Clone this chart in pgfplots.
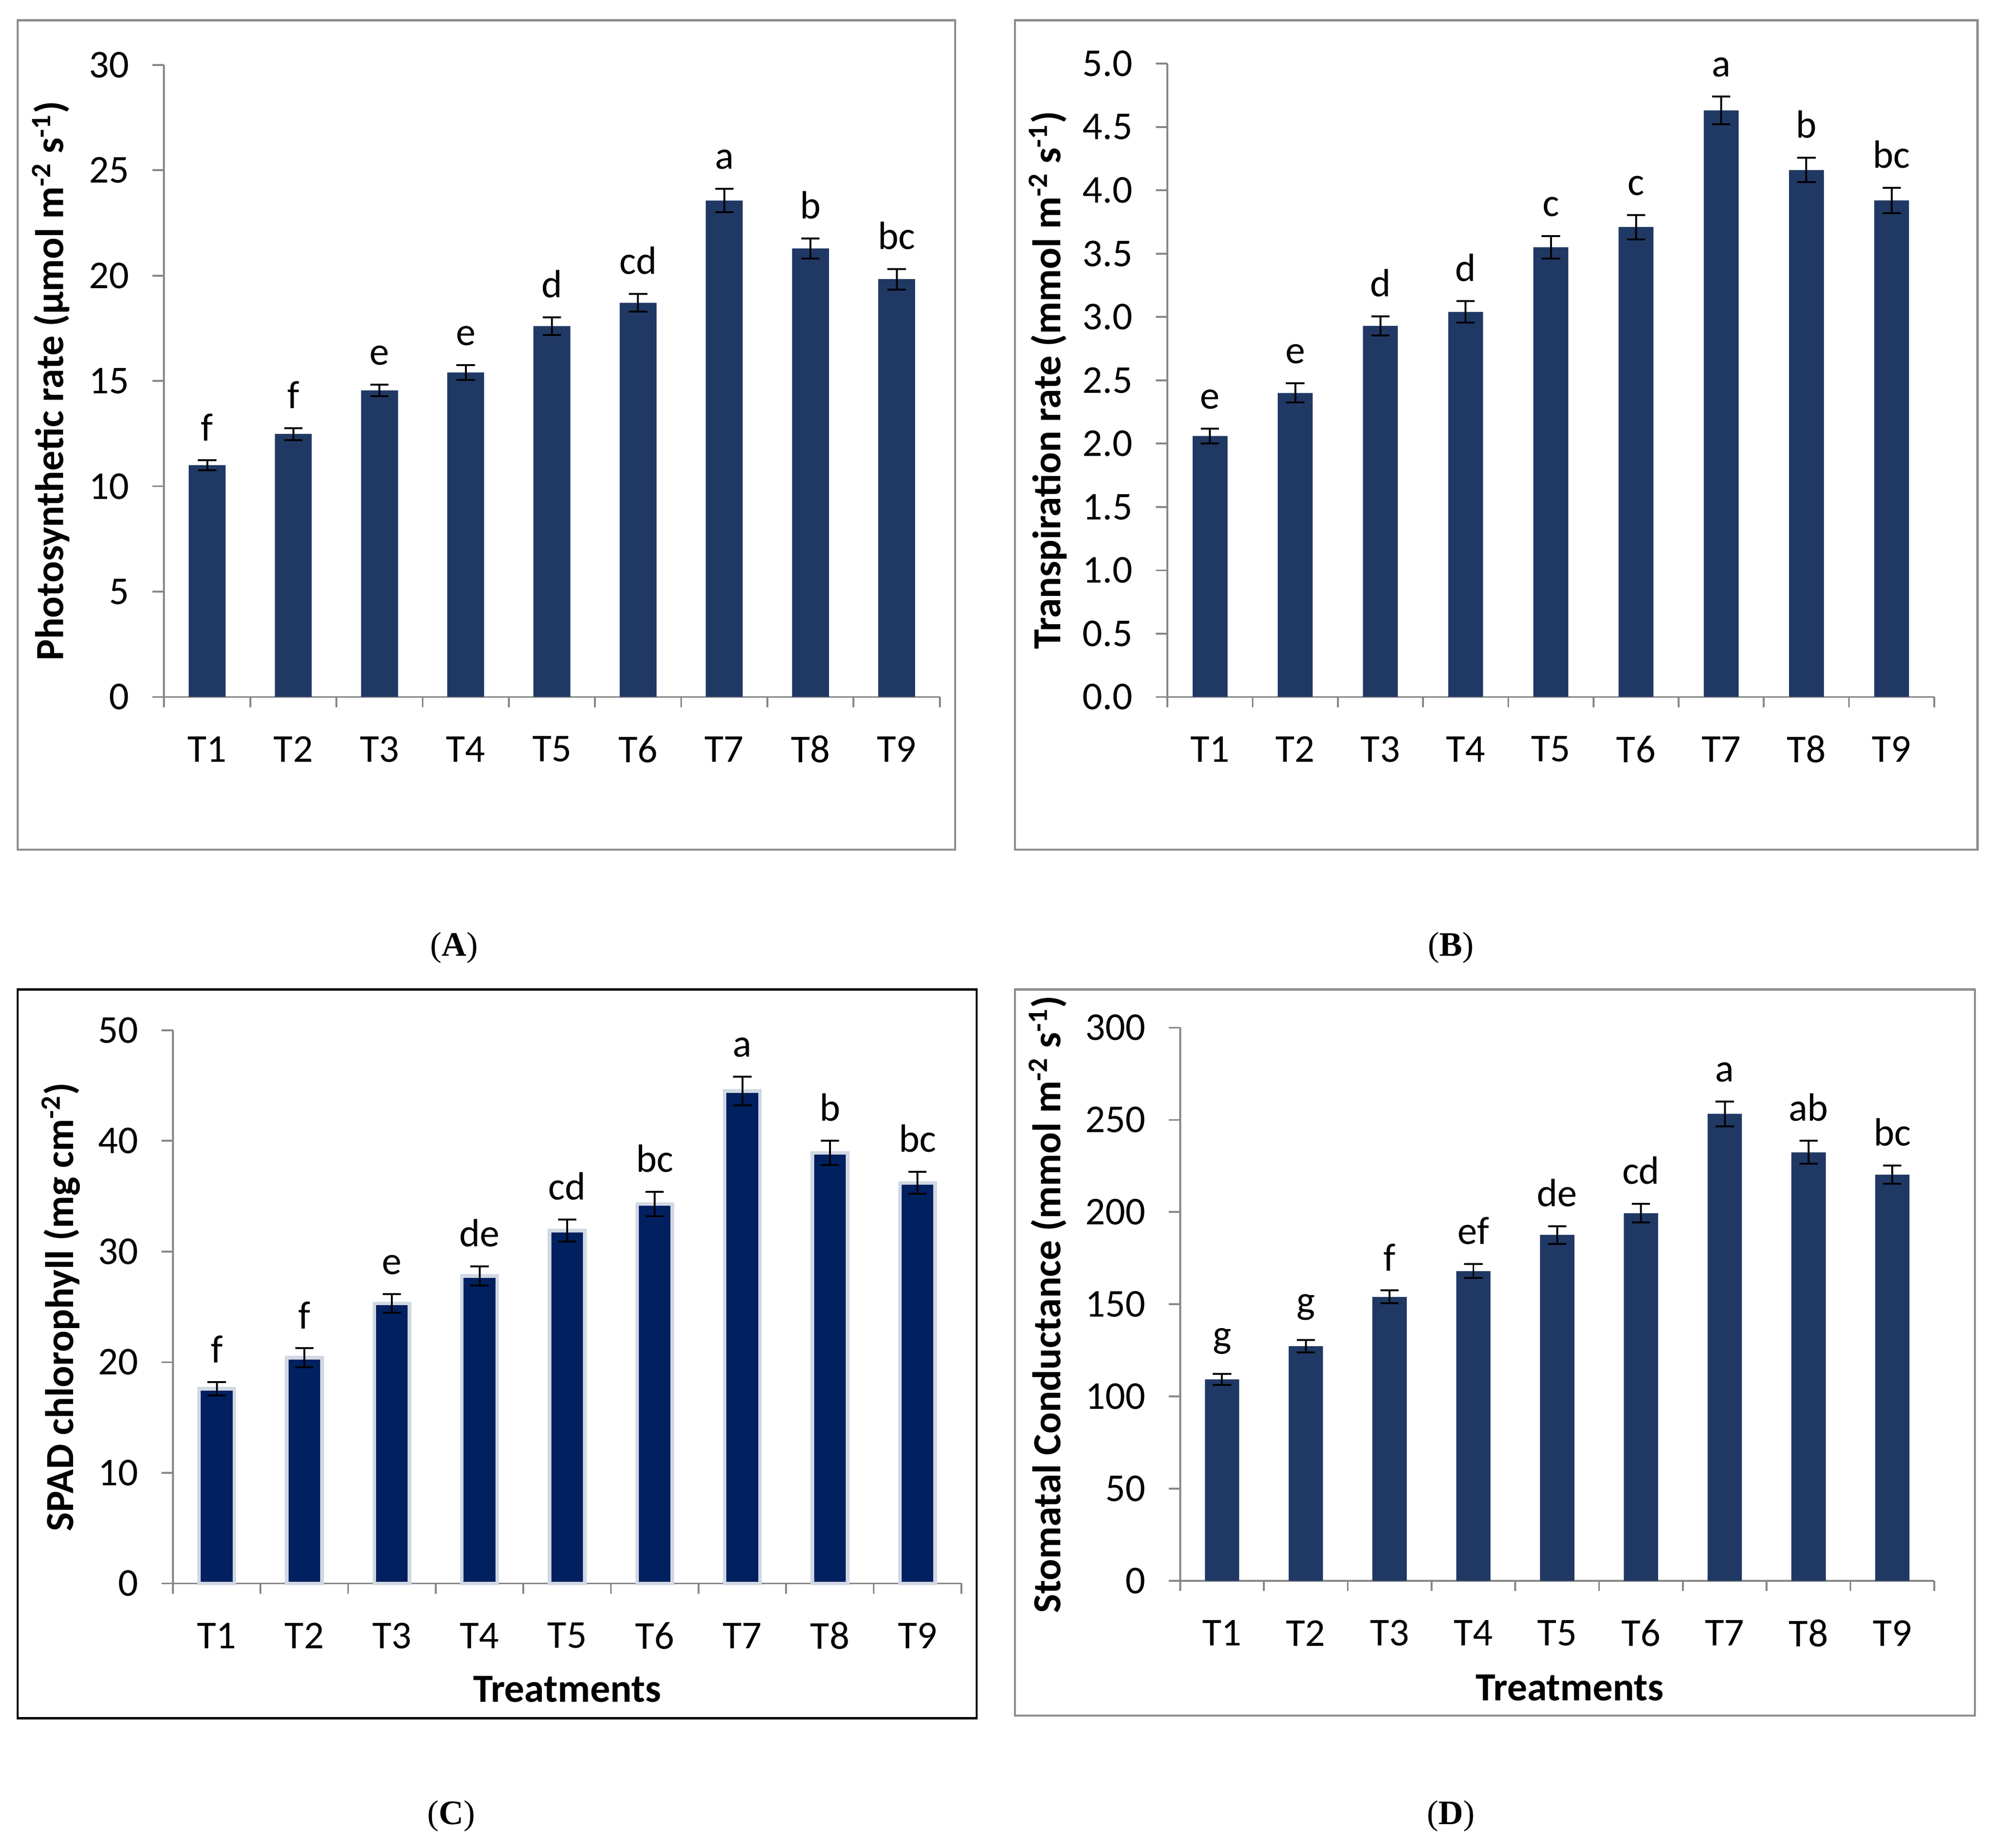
\documentclass[border=0pt]{standalone}
\usepackage{fontspec}
\setmainfont{Carlito}
\newfontfamily\capfont{Liberation Serif}
\usepackage{pgfplots}
\pgfplotsset{compat=1.18}
\usepackage{pgfplotstable}

\definecolor{axgray}{HTML}{868686}
\definecolor{framegray}{HTML}{8C8C8C}
\definecolor{barblue}{HTML}{203864}
\definecolor{cnavy}{HTML}{002060}
\definecolor{cedge}{HTML}{D0D8E4}

% x = treatment, y = mean, err = error, lab = letter
\pgfplotstableread{
x y err lab
1 11.00 0.23 f
2 12.48 0.28 f
3 14.55 0.28 e
4 15.40 0.36 e
5 17.60 0.41 d
6 18.71 0.41 cd
7 23.56 0.55 a
8 21.29 0.48 b
9 19.83 0.49 bc
}\dataA
\pgfplotstableread{
x y err lab
1 2.06 0.057 e
2 2.40 0.075 e
3 2.93 0.075 d
4 3.04 0.085 d
5 3.55 0.087 c
6 3.71 0.096 c
7 4.63 0.110 a
8 4.16 0.096 b
9 3.92 0.100 bc
}\dataB
\pgfplotstableread{
x y err lab
1 17.6 0.60 f
2 20.4 0.85 f
3 25.3 0.85 e
4 27.8 0.87 de
5 31.9 1.00 cd
6 34.3 1.10 bc
7 44.5 1.30 a
8 38.9 1.10 b
9 36.2 1.00 bc
}\dataC
\pgfplotstableread{
x y err lab
1 109.3 2.9 g
2 127.3 3.3 g
3 154.0 3.5 f
4 168.0 3.8 ef
5 187.6 4.8 de
6 199.4 5.1 cd
7 253.3 6.7 a
8 232.4 6.2 ab
9 220.3 4.8 bc
}\dataD

\newcommand{\fs}{\fontsize{15.5}{18}\selectfont}
\newcommand{\lfs}{\bfseries\fontsize{15.7}{18}\selectfont}

\pgfplotsset{
  panel/.style={
    scale only axis, anchor=south west, clip=false,
    xmin=0.5, xmax=9.5, ymin=0,
    axis x line*=bottom, axis y line*=left,
    axis line style={draw=axgray, line width=0.7pt},
    xtick={1,...,9},
    xticklabels={T1,T2,T3,T4,T5,T6,T7,T8,T9},
    minor xtick={0.5,1.5,2.5,3.5,4.5,5.5,6.5,7.5,8.5,9.5},
    major x tick style={draw=none},
    minor x tick style={draw=axgray, line width=0.7pt},
    y tick style={draw=axgray, line width=0.7pt},
    tick align=outside,
    major tick length=4.5pt, minor tick length=4pt,
    tick label style={font=\fs},
    /pgf/number format/assume math mode=true,
    xticklabel style={anchor=center, yshift=-16pt},
    yticklabel style={anchor=east, inner sep=0pt, xshift=-9pt},
  },
  errs/.style={error bars/.cd, y dir=both, y explicit,
    error bar style={line width=0.75pt, black},
    error mark options={rotate=90, mark size=3.6pt, line width=0.75pt, black}},
  letters/.style={draw=none, mark=none, nodes near coords,
    point meta=explicit symbolic,
    every node near coord/.append style={anchor=south, inner sep=0pt,
      yshift=7.5pt, font=\fs, text=black}},
}

\begin{document}
\begin{tikzpicture}
\path[use as bounding box] (0,0) rectangle (784pt,-726.5pt);

% panel frames
\draw[framegray, line width=0.8pt] (7pt,-8pt) rectangle (375.5pt,-334pt);
\draw[framegray, line width=0.8pt] (399pt,-8pt) rectangle (777.5pt,-334pt);
\draw[black, line width=0.8pt] (7pt,-389pt) rectangle (384pt,-675.5pt);
\draw[framegray, line width=0.8pt] (399pt,-389pt) rectangle (776.5pt,-674.5pt);

% (A)
\begin{axis}[panel, at={(64.5pt,-274pt)}, width=305pt, height=248.5pt,
  ymax=30, ytick={0,5,10,15,20,25,30},
  ylabel={Photosynthetic rate (µmol m\textsuperscript{-2} s\textsuperscript{-1})},
  every axis y label/.style={at={(axis description cs:0,0.5)}, anchor=center, xshift=-44.5pt, rotate=90, font=\lfs}]
\addplot[ybar, bar width=14.5pt, fill=barblue, draw=none, errs]
  table[x=x, y=y, y error=err] {\dataA};
\addplot[letters] table[x=x, y expr=\thisrow{y}+\thisrow{err}, meta=lab] {\dataA};
\end{axis}

% (B)
\begin{axis}[panel, at={(459pt,-274pt)}, width=301.5pt, height=249pt,
  ymax=5, ytick={0,0.5,1,1.5,2,2.5,3,3.5,4,4.5,5},
  yticklabel style={/pgf/number format/.cd, fixed, fixed zerofill, precision=1},
  ylabel={Transpiration rate (mmol m\textsuperscript{-2} s\textsuperscript{-1})},
  every axis y label/.style={at={(axis description cs:0,0.5)}, anchor=center, xshift=-47pt, rotate=90, font=\lfs}]
\addplot[ybar, bar width=13.7pt, fill=barblue, draw=none, errs]
  table[x=x, y=y, y error=err] {\dataB};
\addplot[letters] table[x=x, y expr=\thisrow{y}+\thisrow{err}, meta=lab] {\dataB};
\end{axis}

% (C)
\begin{axis}[panel, at={(68pt,-622.5pt)}, width=310pt, height=217.5pt,
  ymax=50, ytick={0,10,20,30,40,50},
  ylabel={SPAD chlorophyll (mg cm\textsuperscript{-2})},
  every axis y label/.style={at={(axis description cs:0,0.5)}, anchor=center, xshift=-44pt, rotate=90, font=\lfs},
  xlabel={Treatments},
  every axis x label/.style={at={(axis description cs:0.5,0)}, anchor=center, yshift=-41.5pt, font=\lfs}]
\addplot[ybar, bar width=13.85pt, fill=cnavy, draw=cedge, line width=1.4pt, errs]
  table[x=x, y=y, y error=err] {\dataC};
\addplot[letters] table[x=x, y expr=\thisrow{y}+\thisrow{err}, meta=lab] {\dataC};
\end{axis}

% (D)
\begin{axis}[panel, at={(464pt,-621.5pt)}, width=296.5pt, height=217.5pt,
  ymax=300, ytick={0,50,100,150,200,250,300},
  ylabel={Stomatal Conductance (mmol m\textsuperscript{-2} s\textsuperscript{-1})},
  every axis y label/.style={at={(axis description cs:0,0.5)}, anchor=center, xshift=-52pt, rotate=90, font=\lfs},
  xlabel={Treatments},
  every axis x label/.style={at={(axis description cs:0.5,0)}, anchor=center, xshift=5pt, yshift=-42pt, font=\lfs}]
\addplot[ybar, bar width=13.5pt, fill=barblue, draw=none, errs]
  table[x=x, y=y, y error=err] {\dataD};
\addplot[letters] table[x=x, y expr=\thisrow{y}+\thisrow{err}, meta=lab] {\dataD};
\end{axis}

% captions
\begin{scope}[every node/.style={font=\capfont\fontsize{13.5}{16}\selectfont}]
\node at (178.5pt,-372.5pt) {(\textbf{A})};
\node at (570.5pt,-372.5pt) {(\textbf{B})};
\node at (177.5pt,-714pt) {(\textbf{C})};
\node at (570.5pt,-714pt) {(\textbf{D})};
\end{scope}
\end{tikzpicture}
\end{document}
